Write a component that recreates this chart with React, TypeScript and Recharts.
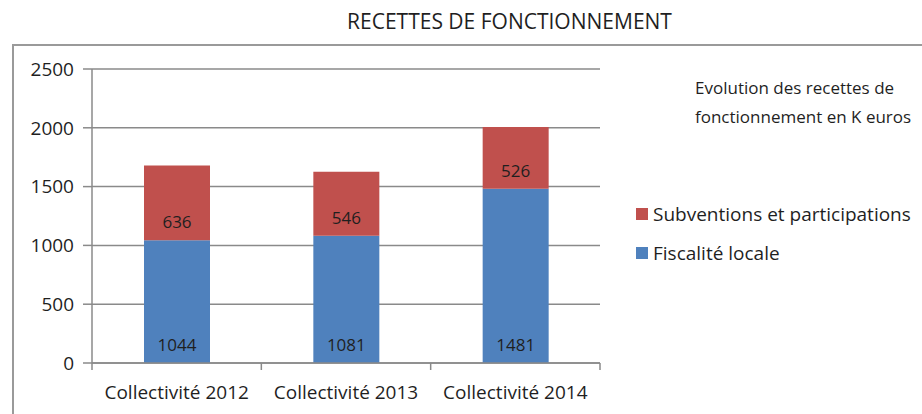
import { BarChart, Bar, XAxis, YAxis, CartesianGrid, Legend, LabelList } from "recharts";

const categories = ["Collectivité 2012", "Collectivité 2013", "Collectivité 2014"];
const fiscalite = [1044, 1081, 1481];
const subventions = [636, 546, 526];
const yTicks = [0, 500, 1000, 1500, 2000, 2500];

const data = categories.map((name, i) => ({
  name,
  fiscalite: fiscalite[i],
  subventions: subventions[i],
}));

const FONT = "'Open Sans', sans-serif";
const GRID = "#8a8a8a";
const TEXT = "#1f1f1f";
const X_TICK_MARGIN = 23;

const legendItems = [
  { label: "Subventions et participations", color: "#C0504D" },
  { label: "Fiscalité locale", color: "#4F81BD" },
];

function LegendBox() {
  return (
    <div style={{ fontFamily: FONT, fontSize: 19, color: TEXT }}>
      {legendItems.map((it) => (
        <div key={it.label} style={{ display: "flex", alignItems: "center", height: 39 }}>
          <span style={{ width: 12, height: 12, background: it.color, marginRight: 5, display: "inline-block" }} />
          {it.label}
        </div>
      ))}
    </div>
  );
}

// category label plus small tick marks on the category boundaries
function CategoryTick(props: any) {
  const { x, y, payload, index, visibleTicksCount } = props;
  const half = payload.offset || 0;
  const top = y - X_TICK_MARGIN;
  return (
    <g>
      <line x1={x - half} x2={x - half} y1={top} y2={top + 7} stroke={GRID} strokeWidth={1.5} />
      {index === visibleTicksCount - 1 && (
        <line x1={x + half} x2={x + half} y1={top} y2={top + 7} stroke={GRID} strokeWidth={1.5} />
      )}
      <text x={x} y={y} dy="0.71em" textAnchor="middle" fill={TEXT} fontSize={19} fontFamily={FONT}>
        {payload.value}
      </text>
    </g>
  );
}

export default function App() {
  return (
    <div style={{ position: "absolute", left: 0, top: 0, width: 922, height: 414, background: "#fff", overflow: "hidden", fontFamily: FONT }}>
      <div
        style={{
          position: "absolute",
          left: 12,
          top: 44,
          width: 930,
          height: 400,
          border: "2px solid #9a9a9a",
        }}
      />
      <div style={{ position: "absolute", left: 0, width: 1019, top: 7, textAlign: "center", fontSize: 21, color: TEXT }}>
        RECETTES DE FONCTIONNEMENT
      </div>
      <div style={{ position: "absolute", left: 695, top: 73, fontSize: 17, lineHeight: "29px", color: TEXT }}>
        Evolution des recettes de
        <br />
        fonctionnement en K euros
      </div>
      <div style={{ position: "absolute", left: 0, top: 0 }}>
        <BarChart width={922} height={414} data={data} margin={{ top: 69, right: 322, bottom: 50, left: 0 }}>
          <CartesianGrid vertical={false} stroke={GRID} strokeWidth={1.5} />
          <XAxis
            dataKey="name"
            height={1}
            tickLine={false}
            axisLine={{ stroke: GRID, strokeWidth: 1.5 }}
            tickSize={0}
            tickMargin={X_TICK_MARGIN}
            interval={0}
            tick={<CategoryTick />}
          />
          <YAxis
            width={92}
            domain={[0, 2500]}
            ticks={yTicks}
            tickSize={9}
            tickMargin={9}
            tickLine={{ stroke: GRID, strokeWidth: 1.5 }}
            axisLine={{ stroke: GRID, strokeWidth: 1.5 }}
            tick={{ fill: TEXT, fontSize: 19, fontFamily: FONT }}
          />
          <Legend
            layout="horizontal"
            verticalAlign="middle"
            align="center"
            wrapperStyle={{ left: 636, top: 194, width: 286 }}
            content={() => <LegendBox />}
          />
          <Bar dataKey="fiscalite" name="Fiscalité locale" stackId="a" fill="#4F81BD" barSize={66} isAnimationActive={false}>
            <LabelList dataKey="fiscalite" position="insideBottom" offset={12} fill={TEXT} fontSize={17} fontFamily={FONT} />
          </Bar>
          <Bar dataKey="subventions" name="Subventions et participations" stackId="a" fill="#C0504D" barSize={66} isAnimationActive={false}>
            <LabelList dataKey="subventions" position="insideBottom" offset={12} fill={TEXT} fontSize={17} fontFamily={FONT} />
          </Bar>
        </BarChart>
      </div>
    </div>
  );
}
